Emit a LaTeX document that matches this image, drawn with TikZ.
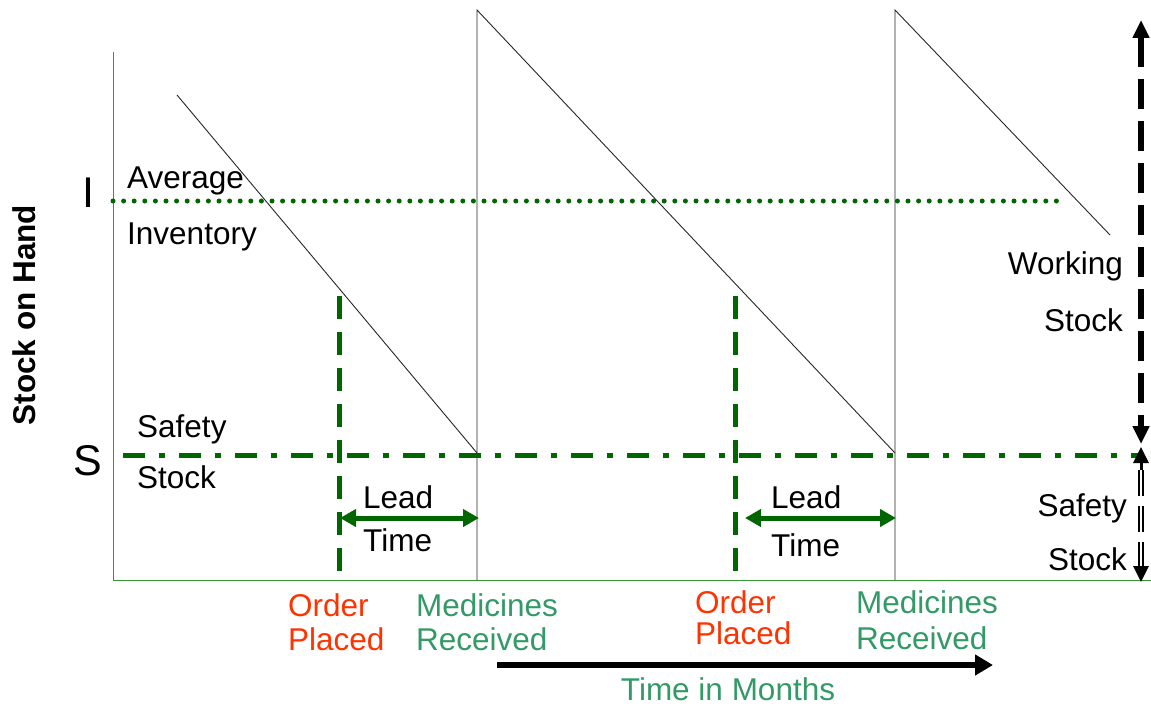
\documentclass[tikz,border=0pt]{standalone}
\usepackage{fontspec}
\setmainfont{Liberation Sans}
\usetikzlibrary{arrows.meta}
\definecolor{dgreen}{HTML}{006600}
\definecolor{axgreen}{HTML}{339933}
\definecolor{tgreen}{HTML}{339966}
\definecolor{ored}{HTML}{FF3300}
\begin{document}
\begin{tikzpicture}[x=1pt,y=-1pt,
  lbl/.style={font=\fontsize{31.5}{36}\selectfont, inner sep=0pt, anchor=base west},
  lblr/.style={lbl, anchor=base east},
  big/.style={font=\fontsize{43}{48}\selectfont, inner sep=0pt},
  axis/.style={axgreen, line width=1pt},
  saw/.style={black!85, line width=0.9pt},
  avgline/.style={dgreen, line width=5pt, line cap=round, dash pattern=on 0pt off 10.6pt},
  ssline/.style={dgreen, line width=5pt, dash pattern=on 22pt off 14pt on 6pt off 14pt},
  orderline/.style={dgreen, line width=5pt, dash pattern=on 23pt off 13pt},
  leadarrow/.style={dgreen, line width=5pt, {Triangle[length=16pt,width=17pt]}-{Triangle[length=16pt,width=17pt]}},
  wsarrow/.style={black, line width=6pt, dash pattern=on 30pt off 12pt, {Triangle[length=18pt,width=16pt]}-{Triangle[length=18pt,width=16pt]}},
  dblline/.style={black, line width=1.8pt, double distance=2.6pt, dash pattern=on 26pt off 10pt},
  tip/.style={black, line width=3pt, -{Triangle[length=16pt,width=15pt]}},
  timearrow/.style={black, line width=6pt, -{Triangle[length=18pt,width=20pt]}}
]
\useasboundingbox (0,0) rectangle (1151,706);

% axes
\coordinate (yt) at (113,52);
\coordinate (o) at (113,580);
\coordinate (xe) at (1151,580);
\draw[axis] (yt) -- (o) -- (xe);

% sawtooth
\coordinate (a1) at (177,95);
\coordinate (a2) at (477,453);
\coordinate (b0) at (477,580);
\coordinate (b1) at (477,10);
\coordinate (b2) at (895,453);
\coordinate (c0) at (895,580);
\coordinate (c1) at (895,10);
\coordinate (c2) at (1110,235);
\draw[saw] (a1) -- (a2);
\draw[saw] (b0) -- (b1) -- (b2);
\draw[saw] (c0) -- (c1) -- (c2);

% average inventory line
\coordinate (av1) at (113,201);
\coordinate (av2) at (1060,201);
\draw[avgline] (av1) -- (av2);

% safety stock line
\coordinate (ss1) at (123,455);
\coordinate (ss2) at (1141,455);
\draw[ssline] (ss1) -- (ss2);

% order placed lines
\coordinate (op1t) at (339,296);
\coordinate (op1b) at (339,580);
\coordinate (op2t) at (735,296);
\coordinate (op2b) at (735,580);
\draw[orderline] (op1t) -- (op1b);
\draw[orderline] (op2t) -- (op2b);

% lead time arrows
\coordinate (lt1a) at (340,518);
\coordinate (lt1b) at (479,518);
\coordinate (lt2a) at (745,518);
\coordinate (lt2b) at (896,518);
\draw[leadarrow] (lt1a) -- (lt1b);
\draw[leadarrow] (lt2a) -- (lt2b);

% working stock arrow
\coordinate (ws1) at (1141,20);
\coordinate (ws2) at (1141,444);
\draw[wsarrow] (ws1) -- (ws2);

% safety stock arrow (double line)
\coordinate (sa1) at (1141,470);
\coordinate (sa2) at (1141,566);
\coordinate (sat) at (1141,447);
\coordinate (sab) at (1141,582);
\draw[dblline] (sa1) -- (sa2);
\draw[tip] (sa1) -- (sat);
\draw[tip] (sa2) -- (sab);

% time arrow
\coordinate (ta1) at (497,665);
\coordinate (ta2) at (993,665);
\draw[timearrow] (ta1) -- (ta2);

% labels
\node[big] (lI) at (88,193) {I};
\node[big] (lS) at (88,461) {S};
\node[font=\fontsize{31.5}{36}\selectfont\bfseries, rotate=90, inner sep=0pt] (ylab) at (24,315) {Stock on Hand};

\node[lbl] (avg1) at (127,188) {Average};
\node[lbl] (avg2) at (127,244) {Inventory};
\node[lbl] (sf1) at (137,437) {Safety};
\node[lbl] (sf2) at (137,488) {Stock};

\node[lbl] (ld1) at (363,508) {Lead};
\node[lbl] (tm1) at (363,551) {Time};
\node[lbl] (ld2) at (771,508) {Lead};
\node[lbl] (tm2) at (771,556) {Time};

\node[lblr] (wk1) at (1123,274) {Working};
\node[lblr] (wk2) at (1123,331) {Stock};
\node[lblr] (rs1) at (1127,516) {Safety};
\node[lblr] (rs2) at (1127,570) {Stock};

\node[lbl, ored] (or1) at (288,616) {Order};
\node[lbl, ored] (pl1) at (288,650) {Placed};
\node[lbl, tgreen] (md1) at (416,616) {Medicines};
\node[lbl, tgreen] (rc1) at (416,650) {Received};
\node[lbl, ored] (or2) at (695,613) {Order};
\node[lbl, ored] (pl2) at (695,644) {Placed};
\node[lbl, tgreen] (md2) at (856,613) {Medicines};
\node[lbl, tgreen] (rc2) at (856,649) {Received};

\node[lbl, tgreen, anchor=base] (tim) at (728,700) {Time in Months};
\end{tikzpicture}
\end{document}
